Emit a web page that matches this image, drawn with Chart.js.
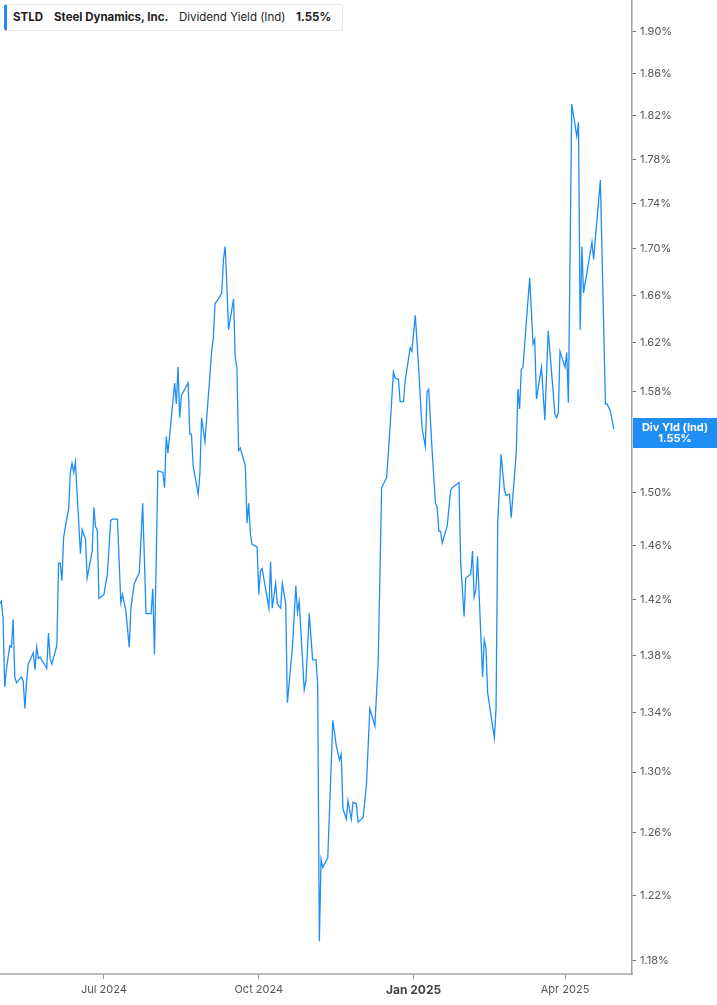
<!DOCTYPE html>
<html>
<head>
<meta charset="utf-8">
<script src="https://cdn.jsdelivr.net/npm/chart.js@4"></script>
<style>
html,body{margin:0;padding:0;background:#fff;}
#wrap{position:relative;width:717px;height:1005px;overflow:hidden;}
#hdr{position:absolute;left:4px;top:4px;width:339px;height:27px;box-sizing:border-box;border:1px solid #e6e6e6;border-left:3px solid #1e8ef5;border-radius:3px;background:#fff;font-family:Inter, "Noto Sans", sans-serif;font-size:11.5px;color:#222;z-index:2;}
#hdr span{position:absolute;top:0;line-height:24px;white-space:nowrap;}
#hdr .b{font-weight:700;}
canvas{display:block;}
</style>
</head>
<body>
<div id="wrap">
  <div id="hdr">
    <span class="b" style="left:6px">STLD</span>
    <span class="b" style="left:47px">Steel Dynamics, Inc.</span>
    <span style="left:172px">Dividend Yield (Ind)</span>
    <span class="b" style="left:289px">1.55%</span>
  </div>
  <canvas id="c" width="717" height="1005"></canvas>
</div>
<script>
// Day number counted from 2024-01-01 (day 0)
const days = [120,121,122,123,124,126,127,128,129,130,
133,134,135,136,137,140,141,142,143,144,
148,149,150,151,154,155,156,157,158,159,
161,162,163,164,165,168,169,171,172,175,
176,177,178,179,182,184,186,187,190,192,
193,195,197,198,200,203,205,207,210,211,
212,214,217,218,219,220,224,225,226,227,
228,232,233,234,235,238,239,240,242,246,
247,248,250,252,253,254,255,256,259,260,
261,262,263,266,267,268,269,270,273,274,
275,276,280,281,282,284,285,287,288,290,
291,294,296,297,298,301,302,304,306,308,
309,310,311,312,315,318,320,322,323,324,
326,327,329,330,332,333,336,338,340,343,
345,347,350,352,354,355,357,358,360,361,
364,365,367,369,371,373,374,375,377,379,
380,381,382,383,386,388,389,393,394,396,
397,400,401,402,403,404,407,408,409,410,
414,415,416,418,420,421,423,424,427,428,
429,430,431,435,437,438,439,442,444,446,
450,451,452,453,456,457,458,460,463,464,
465,466,467,472,473,477,480,481,483,485];

// Dividend yield (%)
const yieldPct = [1.417,1.419,1.407,1.358,1.370,1.387,1.386,1.406,1.365,1.361,
1.365,1.362,1.343,1.362,1.374,1.382,1.370,1.386,1.378,1.379,
1.371,1.396,1.378,1.374,1.387,1.447,1.447,1.434,1.466,1.474,
1.488,1.516,1.523,1.516,1.524,1.454,1.472,1.465,1.436,1.456,
1.489,1.474,1.472,1.421,1.424,1.439,1.479,1.480,1.480,1.418,
1.424,1.412,1.386,1.414,1.432,1.440,1.492,1.410,1.410,1.428,
1.381,1.517,1.516,1.504,1.544,1.531,1.587,1.570,1.600,1.559,
1.577,1.587,1.546,1.546,1.521,1.499,1.515,1.559,1.540,1.613,
1.624,1.653,1.657,1.662,1.691,1.702,1.670,1.631,1.657,1.608,
1.599,1.533,1.535,1.521,1.477,1.492,1.469,1.461,1.459,1.424,
1.441,1.443,1.414,1.448,1.414,1.432,1.417,1.414,1.432,1.417,
1.347,1.386,1.430,1.411,1.419,1.356,1.362,1.410,1.377,1.377,
1.360,1.192,1.243,1.238,1.244,1.335,1.318,1.308,1.312,1.276,
1.269,1.281,1.269,1.280,1.279,1.267,1.270,1.292,1.343,1.331,
1.377,1.504,1.512,1.551,1.596,1.591,1.590,1.572,1.572,1.589,
1.616,1.613,1.643,1.600,1.551,1.536,1.580,1.582,1.533,1.492,
1.489,1.471,1.471,1.462,1.475,1.502,1.504,1.508,1.447,1.408,
1.436,1.439,1.456,1.422,1.427,1.452,1.365,1.391,1.385,1.354,
1.323,1.343,1.477,1.530,1.502,1.498,1.499,1.481,1.531,1.582,
1.566,1.598,1.600,1.675,1.619,1.623,1.574,1.600,1.557,1.630,
1.562,1.559,1.563,1.613,1.600,1.612,1.571,1.831,1.801,1.814,
1.631,1.702,1.662,1.706,1.691,1.761,1.570,1.570,1.564,1.550];

const xTickDays = [182, 274, 366, 456];
const xTickLabels = ['Jul 2024', 'Oct 2024', 'Jan 2025', 'Apr 2025'];
const yTicks = [1.18,1.22,1.26,1.30,1.34,1.38,1.42,1.46,1.50,1.54,1.58,1.62,1.66,1.70,1.74,1.78,1.82,1.86,1.90];
const seriesLabel = 'Div Yld (Ind)';

const BLUE = '#1e8ef5';
const FONT = 'Inter, "Noto Sans", sans-serif';

const points = days.map((d, i) => ({x: d, y: yieldPct[i]}));

const lastLabel = {
  id: 'lastLabel',
  afterDraw(chart) {
    const ctx = chart.ctx;
    const ys = chart.scales.y;
    const area = chart.chartArea;
    const v = yieldPct[yieldPct.length - 1];
    const py = ys.getPixelForValue(v);
    const x0 = area.right + 1;
    const w = chart.width - x0;
    ctx.save();
    ctx.fillStyle = BLUE;
    ctx.fillRect(x0, py - 11, w, 30);
    ctx.fillStyle = '#fff';
    ctx.font = 'bold 11px ' + FONT;
    ctx.textAlign = 'center';
    ctx.textBaseline = 'middle';
    ctx.fillText(seriesLabel, x0 + w / 2, py - 1.5);
    ctx.fillText(v.toFixed(2) + '%', x0 + w / 2, py + 9.5);
    ctx.restore();
  }
};

new Chart(document.getElementById('c'), {
  type: 'line',
  data: {
    datasets: [{
      data: points,
      borderColor: BLUE,
      borderWidth: 1.3,
      pointRadius: 0,
      tension: 0,
      fill: false
    }]
  },
  options: {
    responsive: false,
    animation: false,
    events: [],
    layout: {padding: 0},
    plugins: {legend: {display: false}, tooltip: {enabled: false}},
    scales: {
      x: {
        type: 'linear',
        min: 120.2,
        max: 495.8,
        afterBuildTicks: s => { s.ticks = xTickDays.map(v => ({value: v})); },
        afterFit: s => { s.height = 31; s.paddingLeft = 0; s.paddingRight = 0; },
        ticks: {
          autoSkip: false,
          maxRotation: 0,
          padding: 4,
          callback: (v, i) => xTickLabels[i],
          font: c => (c.index === 2 ? {family: FONT, size: 12, weight: 'bold'} : {family: FONT, size: 11}),
          color: c => (c.index === 2 ? '#444' : '#555')
        },
        grid: {drawOnChartArea: false, drawTicks: true, tickLength: 5, tickColor: '#999', lineWidth: 1},
        border: {display: true, color: '#bdbdbd', width: 2}
      },
      y: {
        type: 'logarithmic',
        position: 'right',
        min: 1.1721,
        max: 1.9314,
        afterBuildTicks: s => { s.ticks = yTicks.map(v => ({value: v})); },
        afterFit: s => { s.width = 85; s.paddingTop = 0; s.paddingBottom = 0; },
        ticks: {
          autoSkip: false,
          padding: 4,
          callback: v => Number(v).toFixed(2) + '%',
          font: {family: FONT, size: 11},
          color: '#555'
        },
        grid: {drawOnChartArea: false, drawTicks: true, tickLength: 4, tickColor: '#666', lineWidth: 1},
        border: {display: true, color: '#9e9e9e', width: 1.5}
      }
    }
  },
  plugins: [lastLabel]
});
</script>
</body>
</html>
